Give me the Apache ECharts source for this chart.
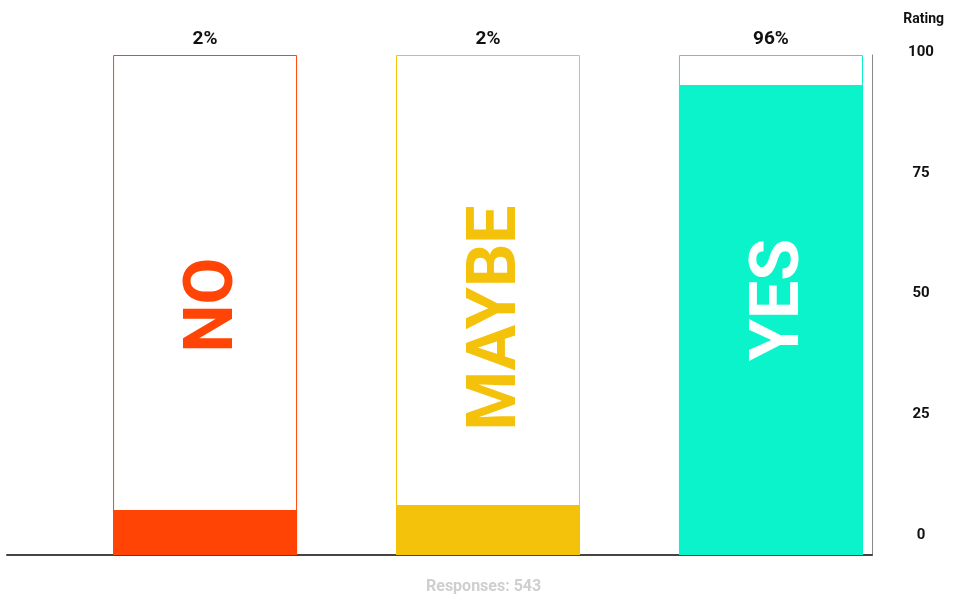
<!DOCTYPE html>
<html>
<head>
<meta charset="utf-8">
<title>Rating</title>
<script src="https://cdn.jsdelivr.net/npm/echarts@6/dist/echarts.min.js"></script>
<style>
  html, body { margin: 0; padding: 0; background: #fff; }
  #container { width: 955px; height: 600px; }
</style>
</head>
<body>
<div id="container"></div>
<script type="text/javascript">
// data
var categories = ['NO', 'MAYBE', 'YES'];
var percentLabels = ['2%', '2%', '96%'];
var fillValues = [9, 10, 94];
var frameValues = [100, 100, 100];
var ratingTicks = [0, 25, 50, 75, 100];
var responses = 543;

var colors = ['#FF4405', '#F5C20B', '#0AF3CB'];
var insideText = ['#FF4405', '#F5C20B', '#ffffff'];
// label is rotated 90deg, so offset is [down(-), right(+)] on screen
var insideShift = [[0, 10], [-13, 10], [5, 10]];

var myChart = echarts.init(document.getElementById('container'));

// outline frames (0..100) with the percent label on top
var frameData = categories.map(function (c, i) {
	return {
		value: [i + 1, frameValues[i]],
		itemStyle: { color: '#fff', borderColor: colors[i], borderWidth: 1 }
	};
});
// filled part
var fillData = categories.map(function (c, i) {
	return { value: [i + 1, fillValues[i]], itemStyle: { color: colors[i] } };
});
// invisible bars on top, only carry the big rotated names
var nameData = categories.map(function (c, i) {
	return {
		value: [i + 1, frameValues[i]],
		label: { color: insideText[i], offset: insideShift[i] }
	};
});

var option = {
	animation: false,
	textStyle: { fontFamily: 'Roboto' },
	title: [
		{
			text: 'Responses: ' + responses,
			left: 421,
			bottom: 0,
			textStyle: { color: '#cfcfcf', fontSize: 16, fontWeight: 'bold', fontFamily: 'Roboto' }
		},
		{
			text: 'Rating',
			right: 6,
			top: 7,
			textStyle: { color: '#111', fontSize: 14, fontWeight: 'bold', fontFamily: 'Roboto' }
		}
	],
	grid: [
		{ left: 7, right: 83, top: 55, bottom: 45 },
		{ left: 7, right: 83, top: 52, height: 483 }
	],
	xAxis: [
		{
			type: 'value', gridIndex: 0, min: 0.3, max: 3.357,
			axisLine: { show: true, lineStyle: { color: '#444', width: 2 } },
			axisTick: { show: false }, axisLabel: { show: false }, splitLine: { show: false }
		},
		{ type: 'value', gridIndex: 1, show: false }
	],
	yAxis: [
		{
			type: 'value', gridIndex: 0, min: 0, max: 100, position: 'right',
			axisLine: { show: true, lineStyle: { color: '#888', width: 1 } },
			axisTick: { show: false }, axisLabel: { show: false }, splitLine: { show: false }
		},
		{
			type: 'value', gridIndex: 1, min: 0, max: 100, interval: 25, position: 'right',
			axisLine: { show: false }, axisTick: { show: false }, splitLine: { show: false },
			axisLabel: {
				margin: 49, align: 'center',
				color: '#111', fontSize: 15, fontWeight: 'bold',
				customValues: ratingTicks
			}
		}
	],
	series: [
		{
			type: 'bar',
			xAxisIndex: 0, yAxisIndex: 0,
			barWidth: 184,
			barGap: '-100%',
			data: frameData,
			z: 1,
			label: {
				show: true,
				position: 'top',
				distance: 6,
				color: '#111',
				fontSize: 19,
				fontWeight: 'bold',
				formatter: function (p) { return percentLabels[p.dataIndex]; }
			}
		},
		{
			type: 'bar',
			xAxisIndex: 0, yAxisIndex: 0,
			barWidth: 184,
			barGap: '-100%',
			data: fillData,
			z: 2
		},
		{
			type: 'bar',
			xAxisIndex: 0, yAxisIndex: 0,
			barWidth: 184,
			barGap: '-100%',
			data: nameData,
			itemStyle: { color: 'rgba(0,0,0,0)' },
			z: 3,
			label: {
				show: true,
				position: 'inside',
				rotate: 90,
				fontSize: 68,
				fontWeight: 'bold',
				fontFamily: 'Roboto',
				formatter: function (p) { return categories[p.dataIndex]; }
			}
		}
	]
};

myChart.setOption(option);
</script>
</body>
</html>
